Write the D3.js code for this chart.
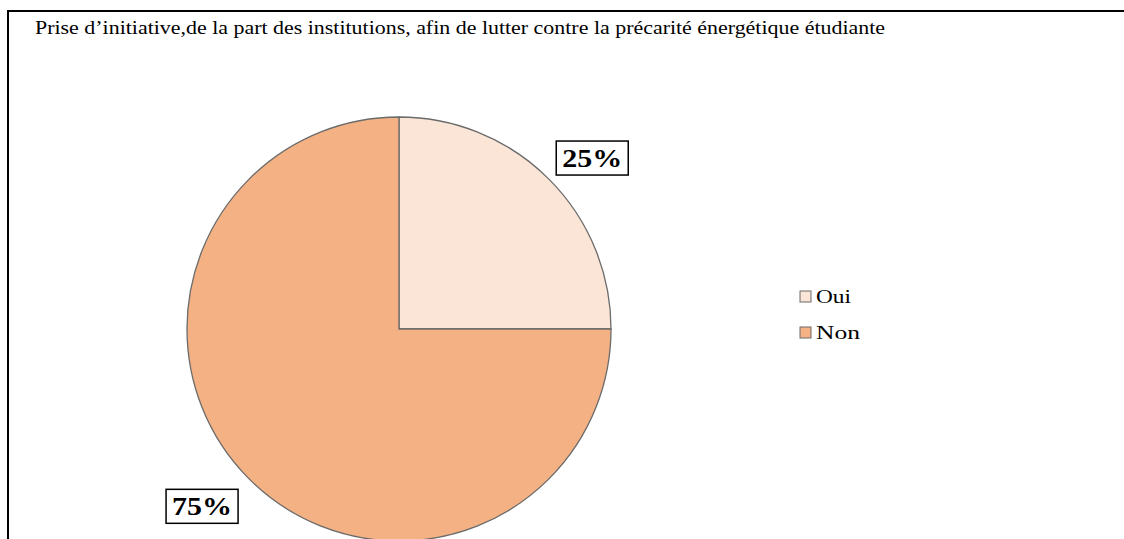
<!DOCTYPE html>
<html lang="fr">
<head>
<meta charset="utf-8"/>
<title>Prise d'initiative</title>
<script src="https://cdn.jsdelivr.net/npm/d3@7"></script>
<style>
  body { margin: 0; background: #fff; }
  svg { display: block; font-family: "Liberation Serif", "Times New Roman", serif; }
</style>
</head>
<body>
<svg id="chart" width="1124" height="539"></svg>
<script>
// data
const categories = ['Oui', 'Non'];
const values = [25, 75];
const colors = ['#FBE5D6', '#F4B183'];
const title = 'Prise d\u2019initiative,de la part des institutions, afin de lutter contre la précarité énergétique étudiante';

const svg = d3.select('#chart');
const cx = 399, cy = 329, r = 212;

// frame (only top and left edges visible)
svg.append('path')
  .attr('d', 'M8,540 L8,11 L1124,11')
  .attr('fill', 'none')
  .attr('stroke', '#000')
  .attr('stroke-width', 2);

// the source text is a bit stretched horizontally
svg.append('text')
  .attr('x', 35).attr('y', 34)
  .attr('font-size', 18)
  .attr('textLength', 850)
  .attr('lengthAdjust', 'spacingAndGlyphs')
  .attr('fill', '#000')
  .text(title);

const pie = d3.pie().sort(null).value(d => d.v);
const arcs = pie(categories.map((c, i) => ({ c, v: values[i] })));
const arc = d3.arc().innerRadius(0).outerRadius(r);

const g = svg.append('g').attr('transform', `translate(${cx},${cy})`);
g.selectAll('path')
  .data(arcs)
  .enter()
  .append('path')
  .attr('d', arc)
  .attr('fill', (d, i) => colors[i])
  .attr('stroke', '#6b6b6b')
  .attr('stroke-width', 1.3);

// labels: best-fit positions outside the pie
const labelAngle = [48.5, 228];
const labelDist = [258, 265];
arcs.forEach((d, i) => {
  const a = labelAngle[i] * Math.PI / 180;
  const x = Math.sin(a) * labelDist[i];
  const y = -Math.cos(a) * labelDist[i];
  const lg = g.append('g').attr('transform', `translate(${x},${y})`);
  lg.append('rect')
    .attr('x', -36).attr('y', -17)
    .attr('width', 72).attr('height', 34)
    .attr('fill', '#fff')
    .attr('stroke', '#000')
    .attr('stroke-width', 1.5);
  lg.append('text')
    .attr('x', -30)
    .attr('y', 9)
    .attr('font-size', 26)
    .attr('font-weight', 'bold')
    .attr('textLength', 60)
    .attr('lengthAdjust', 'spacingAndGlyphs')
    .text(Math.round(d.data.v) + '%');
});

// legend
const legendWidth = [35, 44];
const legend = svg.append('g').attr('transform', 'translate(800,291)');
const item = legend.selectAll('g')
  .data(categories)
  .enter()
  .append('g')
  .attr('transform', (d, i) => `translate(0,${i * 36})`);
item.append('rect')
  .attr('width', 11).attr('height', 11)
  .attr('fill', (d, i) => colors[i])
  .attr('stroke', '#6b6b6b')
  .attr('stroke-width', 1);
item.append('text')
  .attr('x', 16).attr('y', 12)
  .attr('font-size', 19)
  .attr('textLength', (d, i) => legendWidth[i])
  .attr('lengthAdjust', 'spacingAndGlyphs')
  .text(d => d);
</script>
</body>
</html>
